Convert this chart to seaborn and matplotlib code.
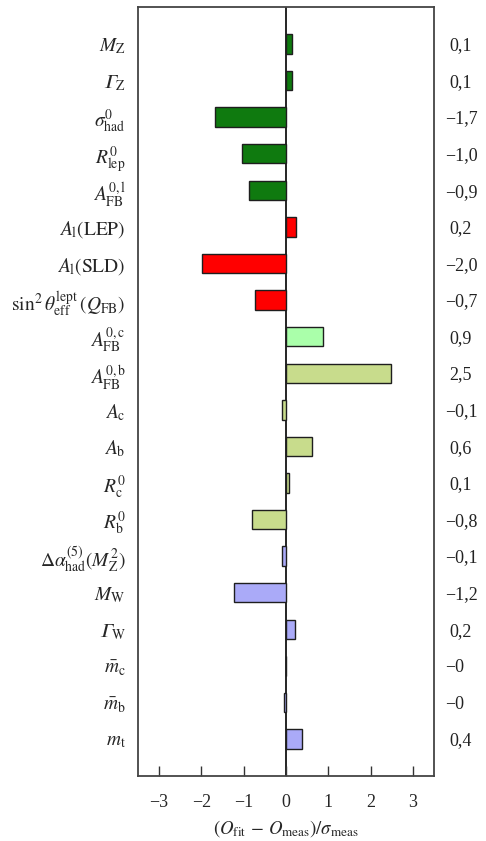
import matplotlib
matplotlib.use("Agg")
import matplotlib.pyplot as plt
import matplotlib.transforms as mtransforms
import pandas as pd
import seaborn as sns

# Observables of the electroweak fit (top to bottom)
observables = [
    r"$M_{\mathrm{Z}}$",
    "$\U0001D6E4_{\\mathrm{Z}}$",
    r"$\sigma^{0}_{\mathrm{had}}$",
    r"$R^{0}_{\mathrm{lep}}$",
    r"$A^{0,\mathrm{l}}_{\mathrm{FB}}$",
    r"$A_{\mathrm{l}}(\mathrm{LEP})$",
    r"$A_{\mathrm{l}}(\mathrm{SLD})$",
    r"$\sin^{2}\theta^{\mathrm{lept}}_{\mathrm{eff}}\,(Q_{\mathrm{FB}})$",
    r"$A^{0,\mathrm{c}}_{\mathrm{FB}}$",
    r"$A^{0,\mathrm{b}}_{\mathrm{FB}}$",
    r"$A_{\mathrm{c}}$",
    r"$A_{\mathrm{b}}$",
    r"$R^{0}_{\mathrm{c}}$",
    r"$R^{0}_{\mathrm{b}}$",
    r"$\Delta\alpha^{(5)}_{\mathrm{had}}(M^{2}_{\mathrm{Z}})$",
    r"$M_{\mathrm{W}}$",
    "$\U0001D6E4_{\\mathrm{W}}$",
    r"$\bar{m}_{\mathrm{c}}$",
    r"$\bar{m}_{\mathrm{b}}$",
    r"$m_{\mathrm{t}}$",
]

# Pull of each observable, (O_fit - O_meas) / sigma_meas
pulls = [0.13, 0.14, -1.69, -1.04, -0.88, 0.23, -1.98, -0.74, 0.87, 2.49,
         -0.09, 0.61, 0.08, -0.80, -0.09, -1.23, 0.21, -0.01, -0.04, 0.37]

# Measurement group of each observable
groups = ["zpole"] * 5 + ["lepton"] * 3 + ["charm"] + ["heavy"] * 5 + ["other"] * 6

group_colors = {
    "zpole": "#0f7a0f",
    "lepton": "#ff0000",
    "charm": "#aaffaa",
    "heavy": "#c8dc8c",
    "other": "#aaaaf8",
}

x_ticks = [-3, -2, -1, 0, 1, 2, 3]


def pull_label(v):
    s = f"{v:.1f}"
    if s in ("-0.0", "0.0"):
        s = s[:-2]
    return s.replace("-", "\u2212").replace(".", ",")


df = pd.DataFrame({"observable": observables, "pull": pulls, "group": groups})

sns.set_theme(style="white")
plt.rcParams["font.family"] = ["Liberation Serif", "DejaVu Serif"]
plt.rcParams["mathtext.fontset"] = "stix"
plt.rcParams["axes.unicode_minus"] = True

fig = plt.figure(figsize=(4.86, 8.41), dpi=100)
ax = fig.add_axes([0.284, 0.0776, 0.609, 0.9137])

sns.barplot(
    data=df, x="pull", y="observable", hue="group", palette=group_colors,
    order=observables, orient="h", dodge=False, width=0.53, saturation=1,
    edgecolor="#1e1e1e", linewidth=1.0, legend=False, ax=ax,
)

ax.axvline(0, color="black", lw=1.2, zorder=0.5)
ax.set_xlim(-3.5, 3.5)
ax.set_ylim(len(observables), -1.0)

ax.set_xticks(x_ticks)
ax.set_xticklabels([str(t).replace("-", "\u2212") for t in x_ticks])
ax.tick_params(axis="x", direction="in", length=7, width=1.0, color="#333333",
               labelsize=13, pad=13, bottom=True)
ax.tick_params(axis="y", length=0, pad=9, labelsize=14)
ax.set_ylabel("")
ax.set_xlabel(r"$(O_{\mathrm{fit}}\,-\,O_{\mathrm{meas}})/\sigma_{\mathrm{meas}}$",
              fontsize=13.5, labelpad=5)

for spine in ax.spines.values():
    spine.set_visible(True)
    spine.set_color("#444444")
    spine.set_linewidth(1.3)

# Pull values printed to the right of the frame
trans = mtransforms.blended_transform_factory(ax.transAxes, ax.transData)
for i, v in enumerate(pulls):
    text = pull_label(v)
    xpos = 1.037 if text.startswith("\u2212") else 1.051
    ax.text(xpos, i + 0.05, text, transform=trans, ha="left", va="center",
            fontsize=13, color="#222222")

fig.savefig("out.png", dpi=100)
